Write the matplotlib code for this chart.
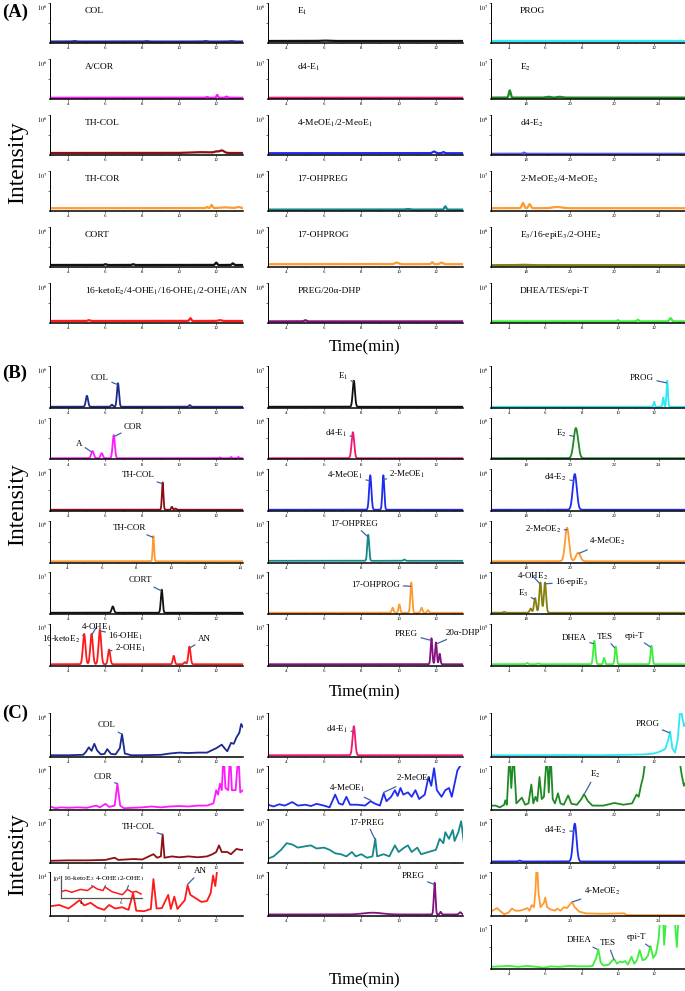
import numpy as np
import matplotlib.pyplot as plt

plt.rcParams['font.family'] = ['Liberation Serif', 'DejaVu Serif']
plt.rcParams['mathtext.fontset'] = 'stix'

FIG_W, FIG_H = 685, 991

NAVY, MAGENTA, DARKRED, ORANGE = '#1b2a8c', '#ff19ff', '#8c0f14', '#ff9a2e'
BLACK, RED, PINK, BLUE = '#111111', '#ff1a1a', '#f5176e', '#1f2cf0'
TEAL, PURPLE, CYAN, GREEN = '#16878a', '#82107f', '#2ee8f2', '#1f8a24'
SLATE, OLIVE, LIME = '#5a5cf0', '#83800e', '#3cef3c'
LEADER = '#3f62a8'

SHORT = (3.0, 13.45)
SHORT3 = (3.0, 13.7)
LONG = (16.4, 25.2)
WIDE = (3.0, 14.2)

# ---- (A) blank samples: (baseline, [(retention time, height, sigma), ...])
a_col = (0.035, [(4.3, .012, .08), (8.2, .01, .08), (11.4, .012, .08), (12.8, .01, .08)])
a_acor = (0.03, [(11.5, .02, .05), (12.05, .07, .04), (12.55, .03, .06)])
a_thcol = (0.05, [(11.2, .02, .6), (12.0, .03, .1), (12.3, .06, .12)])
a_thcor = (0.07, [(11.5, .03, .05), (11.75, .08, .05), (12.5, .02, .3), (13.2, .03, .1)])
a_cort = (0.05, [(6.0, .02, .05), (7.5, .02, .05), (12.0, .06, .05), (12.9, .04, .05)])
a_keto = (0.05, [(5.1, .02, .06), (10.6, .07, .05), (12.2, .02, .1)])
a_e1 = (0.05, [(6.0, .01, .2)])
a_d4e1 = (0.03, [])
a_meoe1 = (0.045, [(11.9, .04, .08), (12.4, .03, .05)])
a_ohpreg = (0.035, [(10.5, .015, .1), (12.5, .08, .05)])
a_ohprog = (0.07, [(9.9, .04, .1), (11.8, .05, .05), (12.3, .04, .08)])
a_preg = (0.04, [(5.0, .03, .06)])
a_prog = (0.05, [])
a_e2 = (0.035, [(17.25, .18, .04), (19.0, .02, .1), (19.5, .02, .1)])
a_d4e2 = (0.03, [(17.9, .03, .05)])
a_meoe2 = (0.07, [(17.85, .13, .05), (18.15, .1, .05), (19.4, .03, .2)])
a_e3 = (0.045, [(17.8, .01, .2)])
a_dhea = (0.04, [(10.0, .03, .05), (11.1, .04, .05), (12.9, .08, .06)])

# ---- (B) standards
b_col = (0.03, [(5.0, .26, .06), (6.35, .05, .05), (6.68, .56, .055), (10.57, .04, .04)])
b_acor = (0.03, [(5.3, .17, .07), (5.8, .12, .06), (6.45, .55, .06),
                 (12.2, .02, .04), (12.8, .03, .04), (13.2, .03, .04)])
b_thcol = (0.03, [(9.1, .65, .04), (9.6, .07, .04), (9.8, .03, .04)])
b_thcor = (0.03, [(9.0, .6, .04)])
b_cort = (0.03, [(6.4, .15, .06), (9.05, .55, .05)])
b_keto = (0.03, [(4.85, .72, .07), (5.25, .72, .07), (5.7, .82, .07), (6.2, .35, .06),
                 (9.7, .2, .05), (10.3, .05, .05), (10.55, .42, .06)])
b_e1 = (0.03, [(7.6, .62, .06)])
b_d4e1 = (0.03, [(7.55, .62, .07)])
b_meoe1 = (0.03, [(8.48, .82, .06), (9.18, .82, .05)])
b_ohpreg = (0.04, [(8.37, .62, .05), (10.3, .03, .05)])
b_ohprog = (0.03, [(9.68, .12, .045), (10.04, .2, .045), (10.68, .72, .05), (11.23, .12, .045), (11.57, .06, .045)])
b_preg = (0.03, [(11.76, .62, .045), (12.0, .52, .045), (12.2, .25, .04)])
b_prog = (0.03, [(12.0, .12, .035), (12.5, .22, .035), (12.72, .62, .04)])
b_e2 = (0.03, [(20.25, .72, .1)])
b_d4e2 = (0.03, [(20.2, .85, .09)])
b_meoe2 = (0.03, [(19.85, .8, .09), (20.35, .2, .1)])
b_e3 = (0.03, [(17.0, .02, .05), (18.2, .1, .045), (18.4, .35, .05), (18.64, .72, .05), (18.85, .72, .05)])
b_dhea = (0.03, [(5.0, .03, .05), (5.6, .02, .05), (8.7, .56, .06), (9.24, .15, .045),
                 (9.88, .42, .05), (11.85, .44, .05)])

# ---- (C) real samples
c_col_t = [3.0, 4.0, 4.8, 4.95, 5.1, 5.25, 5.4, 5.55, 5.75, 5.95, 6.1, 6.3, 6.55, 6.78, 6.9, 7.05, 7.4, 8.0,
           9.0, 9.5, 10.0, 10.5, 11.0, 11.5, 11.8, 12.0, 12.3, 12.45, 12.6, 12.8, 12.95, 13.1, 13.25, 13.35, 13.45]
c_col_h = [0.04, 0.04, 0.05, 0.12, 0.22, 0.14, 0.3, 0.15, 0.06, 0.07, 0.18, 0.07, 0.06, 0.2, 0.52, 0.08, 0.04, 0.04,
           0.05, 0.08, 0.1, 0.09, 0.1, 0.1, 0.16, 0.2, 0.28, 0.2, 0.13, 0.32, 0.3, 0.45, 0.55, 0.75, 0.68]
c_cor_t = [3.0, 3.3, 3.6, 4.0, 4.5, 5.0, 5.5, 5.7, 6.0, 6.2, 6.5, 6.65, 6.8, 7.0, 7.5, 8.0, 8.5, 9.0, 9.5, 10.0,
           10.5, 11.0, 11.5, 11.85, 12.0, 12.1, 12.2, 12.3, 12.4, 12.5, 12.65, 12.75, 12.85, 13.05, 13.2, 13.3, 13.45]
c_cor_h = [0.08, 0.04, 0.06, 0.05, 0.06, 0.05, 0.1, 0.06, 0.14, 0.07, 0.1, 0.6, 0.1, 0.04, 0.05, 0.06, 0.08, 0.06,
           0.08, 0.09, 0.08, 0.1, 0.1, 0.15, 0.45, 0.35, 0.6, 0.45, 1.3, 0.5, 0.45, 1.3, 0.45, 0.45, 1.3, 0.4, 0.45]
c_thcol_t = [3.0, 4.0, 5.0, 6.0, 6.5, 6.7, 7.5, 8.0, 8.6, 8.8, 9.0, 9.1, 9.2, 9.6, 10.0, 10.5, 11.0, 11.5,
             11.8, 12.0, 12.15, 12.3, 12.6, 12.8, 13.1, 13.3, 13.45]
c_thcol_h = [0.05, 0.06, 0.06, 0.07, 0.12, 0.07, 0.09, 0.08, 0.2, 0.12, 0.15, 0.65, 0.12, 0.15, 0.13, 0.15, 0.13,
             0.15, 0.2, 0.25, 0.4, 0.25, 0.25, 0.2, 0.32, 0.3, 0.3]
c_keto_t = [3.0, 3.5, 4.0, 4.36, 4.6, 4.85, 5.2, 5.57, 5.93, 6.2, 6.53, 6.9, 7.25, 7.5, 7.67, 8.1, 8.46, 8.6, 8.77,
            9.06, 9.4, 9.54, 9.73, 9.9, 10.14, 10.3, 10.45, 10.6, 10.9, 11.2, 11.5, 11.7, 11.83, 11.95, 12.05]
c_keto_h = [0.22, 0.25, 0.17, 0.28, 0.36, 0.24, 0.3, 0.19, 0.14, 0.25, 0.17, 0.2, 0.14, 0.52, 0.12, 0.11, 0.16,
            0.84, 0.17, 0.18, 0.48, 0.16, 0.44, 0.16, 0.28, 0.36, 0.7, 0.48, 0.4, 0.32, 0.34, 0.52, 0.92, 0.68, 1.05]
c_inset_t = [3.0, 3.2, 3.5, 3.95, 4.3, 4.6, 4.8, 5.1, 5.2, 5.55, 5.9, 6.1, 6.35, 6.6, 6.8, 7.05]
c_inset_h = [0.3, 0.35, 0.26, 0.39, 0.34, 0.53, 0.41, 0.34, 0.5, 0.29, 0.2, 0.15, 0.39, 0.26, 0.3, 0.18]
c_d4e1 = (0.04, [(7.6, .66, .07)])
c_meoe1_t = [3.0, 3.3, 3.6, 3.9, 4.3, 4.6, 5.0, 5.3, 5.6, 6.0, 6.3, 6.6, 6.8, 7.0, 7.2, 7.4, 7.8, 8.2, 8.5, 8.7,
             9.0, 9.2, 9.35, 9.6, 9.8, 9.95, 10.1, 10.25, 10.5, 10.7, 10.9, 11.1, 11.4, 11.6, 11.75, 11.9, 12.05,
             12.3, 12.5, 12.7, 12.85, 13.0, 13.15, 13.3]
c_meoe1_h = [0.12, 0.08, 0.13, 0.1, 0.18, 0.1, 0.12, 0.09, 0.14, 0.1, 0.06, 0.35, 0.15, 0.12, 0.3, 0.12, 0.12, 0.1,
             0.2, 0.15, 0.1, 0.38, 0.2, 0.3, 0.45, 0.32, 0.5, 0.35, 0.4, 0.3, 0.45, 0.25, 0.35, 0.75, 0.55, 0.95,
             0.45, 0.3, 0.45, 0.5, 0.3, 0.6, 0.9, 1.0]
c_preg17_t = [3.0, 3.3, 3.7, 4.0, 4.3, 4.6, 5.0, 5.3, 5.6, 6.0, 6.3, 6.6, 6.9, 7.2, 7.5, 7.7, 8.0, 8.3, 8.6, 8.75,
              8.85, 9.2, 9.5, 9.8, 10.0, 10.3, 10.5, 10.7, 11.0, 11.2, 11.6, 12.0, 12.2, 12.4, 12.5, 12.7, 12.9,
              13.0, 13.2, 13.35, 13.5]
c_preg17_h = [0.1, 0.15, 0.3, 0.45, 0.42, 0.35, 0.38, 0.4, 0.33, 0.35, 0.3, 0.22, 0.2, 0.15, 0.25, 0.15, 0.2, 0.12,
              0.15, 0.55, 0.15, 0.2, 0.15, 0.4, 0.25, 0.35, 0.4, 0.25, 0.35, 0.2, 0.25, 0.3, 0.55, 0.45, 0.7, 0.55,
              0.75, 0.5, 0.7, 0.95, 0.45]
c_preg = (0.035, [(8.6, .04, .5), (11.93, .72, .045), (12.25, .06, .04), (13.3, .05, .06)])
c_prog_t = [3.0, 5.0, 7.0, 9.0, 10.5, 11.5, 12.0, 12.3, 12.6, 12.75, 12.88, 13.0, 13.15, 13.3, 13.45, 13.55, 13.65, 13.7]
c_prog_h = [0.04, 0.04, 0.045, 0.04, 0.05, 0.06, 0.08, 0.12, 0.18, 0.35, 0.58, 0.2, 0.1, 0.4, 1.15, 0.9, 0.7, 0.75]
c_e2_t = [16.4, 16.6, 16.8, 17.0, 17.05, 17.12, 17.24, 17.32, 17.42, 17.55, 17.8, 17.95, 18.1, 18.23, 18.32, 18.42,
          18.5, 18.6, 18.7, 18.8, 18.94, 19.02, 19.1, 19.2, 19.3, 19.44, 19.55, 19.7, 19.9, 20.05, 20.3, 20.5, 20.62,
          20.8, 21.0, 21.5, 22.0, 22.4, 22.8, 23.0, 23.1, 23.2, 23.3, 23.45, 24.9, 25.05, 25.15, 25.2]
c_e2_h = [0.1, 0.1, 0.06, 0.12, 0.22, 0.12, 1.3, 0.5, 1.3, 0.15, 0.28, 0.12, 0.15, 0.58, 0.15, 0.3, 0.2, 0.75, 0.25,
          0.3, 1.3, 0.4, 1.3, 0.25, 0.15, 0.38, 0.15, 0.12, 0.33, 0.14, 0.12, 0.25, 0.36, 0.2, 0.1, 0.1, 0.16, 0.12,
          0.15, 0.35, 0.3, 0.55, 0.75, 1.3, 1.3, 0.8, 0.55, 0.6]
c_d4e2 = (0.035, [(17.7, .02, .05), (20.2, .86, .08)])
c_meoe2_t = [16.4, 16.67, 16.85, 17.0, 17.2, 17.35, 17.5, 17.7, 17.9, 18.05, 18.15, 18.25, 18.35, 18.42, 18.48,
             18.56, 18.65, 18.8, 18.86, 18.95, 19.1, 19.3, 19.4, 19.55, 19.7, 19.85, 20.07, 20.2, 20.4, 20.7, 21.5,
             22.3, 22.45, 22.55, 25.2]
c_meoe2_h = [0.1, 0.18, 0.1, 0.04, 0.08, 0.17, 0.12, 0.12, 0.15, 0.18, 0.12, 0.25, 0.2, 0.6, 1.3, 0.5, 0.2, 0.3,
             0.42, 0.2, 0.15, 0.12, 0.17, 0.12, 0.2, 0.18, 0.32, 0.2, 0.1, 0.06, 0.05, 0.06, 0.06, 0.02, 0.02]
c_dhea_t = [3.0, 3.5, 4.0, 4.5, 5.0, 5.5, 5.9, 6.3, 6.8, 7.3, 7.8, 8.3, 8.6, 8.8, 8.92, 9.05, 9.2, 9.5, 9.7, 9.8,
            9.95, 10.1, 10.25, 10.4, 10.55, 10.75, 10.9, 11.05, 11.2, 11.35, 11.5, 11.65, 11.8, 11.95, 12.1, 12.25,
            12.35, 12.48, 12.55, 12.68, 13.1, 13.25, 13.36, 13.7]
c_dhea_h = [0.05, 0.06, 0.07, 0.05, 0.07, 0.05, 0.03, 0.06, 0.05, 0.07, 0.06, 0.06, 0.07, 0.25, 0.45, 0.15, 0.08,
            0.1, 0.2, 0.22, 0.12, 0.17, 0.15, 0.18, 0.1, 0.28, 0.12, 0.2, 0.43, 0.2, 0.22, 0.3, 0.52, 0.25, 0.35,
            0.7, 1.3, 1.3, 0.55, 1.3, 1.3, 0.5, 1.3, 1.3]


def px_axes(fig, left, top, width, height):
    return fig.add_axes([left / FIG_W, 1 - (top + height) / FIG_H, width / FIG_W, height / FIG_H])


def peak_curve(t, base, peaks):
    y = np.full_like(t, base)
    for rt, hgt, sig in peaks:
        y += hgt * np.exp(-0.5 * ((t - rt) / sig) ** 2)
    return y


def style_axes(ax, xr, exp):
    ax.set_xlim(*xr)
    ax.set_ylim(0, 1)
    ax.patch.set_alpha(0)
    for s in ('top', 'right'):
        ax.spines[s].set_visible(False)
    ax.spines['bottom'].set_linewidth(1.1)
    ax.spines['left'].set_linewidth(0.7)
    if xr == LONG:
        major, minor = [18, 20, 22, 24], [17, 19, 21, 23, 25]
    else:
        major = list(range(4, int(xr[1]) + 1, 2))
        minor = list(range(3, int(xr[1]) + 1, 2))
    ax.set_xticks(major)
    ax.set_xticks(minor, minor=True)
    ax.set_yticks([0.5, 1.0])
    ax.set_yticklabels([])
    ax.tick_params(axis='x', labelsize=3.5, length=1.5, width=0.4, pad=0.8)
    ax.tick_params(axis='y', length=1.5, width=0.4)
    ax.tick_params(which='minor', length=1, width=0.3)
    ax.text(-0.012, 1.0, rf'$10^{exp}$', transform=ax.transAxes, ha='right', va='top', fontsize=4.5)


def draw(ax, spec, lw=1.3):
    data, color, xr, exp = spec[:4]
    style_axes(ax, xr, exp)
    if isinstance(data, tuple) and len(data) == 2 and np.isscalar(data[0]):
        t = np.linspace(xr[0], xr[1], 2000)
        y = peak_curve(t, *data)
    else:
        t, y = data
    ax.plot(t, y, color=color, lw=lw, solid_joinstyle='round')
    labels = spec[4] if len(spec) > 4 else []
    for text, tx, ty, px, py, ha in labels:
        ax.annotate(text, xy=(px, py), xytext=(tx, ty), ha=ha, va='center', fontsize=6.5,
                    annotation_clip=False,
                    arrowprops=dict(arrowstyle='-', color=LEADER, lw=0.9, shrinkA=0, shrinkB=0))


fig = plt.figure(figsize=(FIG_W / 100, FIG_H / 100), dpi=100)

COL_LEFT = [50, 268, 491]
COL_WIDTH = [193, 195, 194]

# ---------------- (A)
A_cols = [
    [(a_col, NAVY, SHORT, 6, 'COL'), (a_acor, MAGENTA, SHORT, 6, 'A/COR'),
     (a_thcol, DARKRED, SHORT, 6, 'TH-COL'), (a_thcor, ORANGE, SHORT, 7, 'TH-COR'),
     (a_cort, BLACK, SHORT, 6, 'CORT'),
     (a_keto, RED, SHORT, 6, '16-ketoE$_2$/4-OHE$_1$/16-OHE$_1$/2-OHE$_1$/AN')],
    [(a_e1, BLACK, SHORT, 6, 'E$_1$'), (a_d4e1, PINK, SHORT, 7, 'd4-E$_1$'),
     (a_meoe1, BLUE, SHORT, 5, '4-MeOE$_1$/2-MeoE$_1$'), (a_ohpreg, TEAL, SHORT, 6, '17-OHPREG'),
     (a_ohprog, ORANGE, SHORT, 5, '17-OHPROG'), (a_preg, PURPLE, SHORT, 6, 'PREG/20α-DHP')],
    [(a_prog, CYAN, SHORT3, 7, 'PROG'), (a_e2, GREEN, LONG, 7, 'E$_2$'),
     (a_d4e2, SLATE, LONG, 6, 'd4-E$_2$'), (a_meoe2, ORANGE, LONG, 7, '2-MeOE$_2$/4-MeOE$_2$'),
     (a_e3, OLIVE, LONG, 6, 'E$_3$/16-epiE$_3$/2-OHE$_2$'), (a_dhea, LIME, SHORT3, 5, 'DHEA/TES/epi-T')],
]
for c, col in enumerate(A_cols):
    for r, (data, color, xr, exp, name) in enumerate(col):
        ax = px_axes(fig, COL_LEFT[c], 3 + 56 * r, COL_WIDTH[c], 40)
        draw(ax, (data, color, xr, exp), lw=1.6)
        ax.text(0.18 if c == 0 else 0.15, 0.8, name, transform=ax.transAxes, fontsize=6.8, va='center')

# ---------------- (B)
B_cols = [
    [(b_col, NAVY, SHORT, 6, [('COL', 6.2, 0.72, 6.65, 0.56, 'right')]),
     (b_acor, MAGENTA, SHORT, 7, [('A', 4.75, 0.38, 5.25, 0.18, 'right'), ('COR', 7.0, 0.78, 6.5, 0.55, 'left')]),
     (b_thcol, DARKRED, SHORT, 6, [('TH-COL', 8.65, 0.85, 9.08, 0.65, 'right')]),
     (b_thcor, ORANGE, WIDE, 6, [('TH-COR', 8.6, 0.82, 8.98, 0.6, 'right')]),
     (b_cort, BLACK, SHORT, 7, [('CORT', 8.55, 0.8, 9.03, 0.55, 'right')]),
     (b_keto, RED, SHORT, 5, [('16-ketoE$_2$', 4.62, 0.62, 4.85, 0.72, 'right'),
                              ('4-OHE$_1$', 5.5, 0.9, 5.27, 0.74, 'center'),
                              ('16-OHE$_1$', 6.15, 0.7, 5.75, 0.82, 'left'),
                              ('2-OHE$_1$', 6.5, 0.4, 6.22, 0.35, 'left'),
                              ('AN', 11.0, 0.62, 10.57, 0.42, 'left')])],
    [(b_e1, BLACK, SHORT, 7, [('E$_1$', 7.3, 0.75, 7.58, 0.62, 'right')]),
     (b_d4e1, PINK, SHORT, 6, [('d4-E$_1$', 7.25, 0.62, 7.53, 0.55, 'right')]),
     (b_meoe1, BLUE, SHORT, 6, [('4-MeOE$_1$', 8.1, 0.85, 8.45, 0.72, 'right'),
                                ('2-MeOE$_1$', 9.5, 0.88, 9.2, 0.75, 'left')]),
     (b_ohpreg, TEAL, SHORT, 7, [('17-OHPREG', 8.9, 0.92, 8.33, 0.62, 'right')]),
     (b_ohprog, ORANGE, SHORT, 6, [('17-OHPROG', 10.1, 0.7, 10.65, 0.66, 'right')]),
     (b_preg, PURPLE, SHORT, 7, [('PREG', 11.05, 0.75, 11.72, 0.6, 'right'),
                                 ('20α-DHP', 12.5, 0.78, 12.05, 0.52, 'left')])],
    [(b_prog, CYAN, SHORT3, 6, [('PROG', 12.0, 0.72, 12.68, 0.6, 'right')]),
     (b_e2, GREEN, LONG, 6, [('E$_2$', 19.85, 0.62, 20.15, 0.55, 'right')]),
     (b_d4e2, BLUE, LONG, 6, [('d4-E$_2$', 19.85, 0.8, 20.15, 0.72, 'right')]),
     (b_meoe2, ORANGE, LONG, 6, [('2-MeOE$_2$', 19.6, 0.78, 19.85, 0.78, 'right'),
                                 ('4-MeOE$_2$', 20.85, 0.5, 20.4, 0.22, 'left')]),
     (b_e3, OLIVE, LONG, 6, [('E$_3$', 18.1, 0.5, 18.37, 0.35, 'right'),
                             ('4-OHE$_2$', 18.3, 0.9, 18.62, 0.72, 'center'),
                             ('16-epiE$_3$', 19.3, 0.76, 18.88, 0.72, 'left')]),
     (b_dhea, LIME, SHORT3, 5, [('DHEA', 8.3, 0.65, 8.65, 0.52, 'right'),
                                ('TES', 9.3, 0.68, 9.82, 0.42, 'center'),
                                ('epi-T', 10.9, 0.7, 11.8, 0.44, 'center')])],
]
for c, col in enumerate(B_cols):
    for r, spec in enumerate(col):
        ax = px_axes(fig, COL_LEFT[c], 366 + 51.5 * r, COL_WIDTH[c], 42)
        draw(ax, spec)

# ---------------- (C)
C_cols = [
    [((c_col_t, c_col_h), NAVY, SHORT, 6, [('COL', 6.55, 0.72, 6.88, 0.52, 'right')]),
     ((c_cor_t, c_cor_h), MAGENTA, SHORT, 6, [('COR', 6.35, 0.75, 6.62, 0.6, 'right')]),
     ((c_thcol_t, c_thcol_h), DARKRED, SHORT, 6, [('TH-COL', 8.65, 0.82, 9.08, 0.65, 'right')]),
     ((c_keto_t, c_keto_h), RED, SHORT, 4, [('AN', 10.8, 1.02, 10.45, 0.72, 'left')])],
    [(c_d4e1, PINK, SHORT, 6, [('d4-E$_1$', 7.3, 0.62, 7.58, 0.58, 'right')]),
     ((c_meoe1_t, c_meoe1_h), BLUE, SHORT, 6, [('4-MeOE$_1$', 8.2, 0.48, 8.5, 0.22, 'right'),
                                                ('2-MeOE$_1$', 9.85, 0.72, 9.2, 0.4, 'left')]),
     ((c_preg17_t, c_preg17_h), TEAL, SHORT, 7, [('17-PREG', 8.3, 0.92, 8.72, 0.55, 'center')]),
     (c_preg, PURPLE, SHORT, 6, [('PREG', 11.4, 0.9, 11.9, 0.72, 'right')])],
    [((c_prog_t, c_prog_h), CYAN, SHORT3, 6, [('PROG', 12.3, 0.75, 12.85, 0.55, 'right')]),
     ((c_e2_t, c_e2_h), GREEN, LONG, 7, [('E$_2$', 20.9, 0.82, 20.65, 0.38, 'left')]),
     (c_d4e2, BLUE, LONG, 6, [('d4-E$_2$', 19.85, 0.75, 20.15, 0.72, 'right')]),
     ((c_meoe2_t, c_meoe2_h), ORANGE, LONG, 6, [('4-MeOE$_2$', 20.6, 0.55, 20.1, 0.32, 'left')]),
     ((c_dhea_t, c_dhea_h), LIME, SHORT3, 7, [('DHEA', 8.55, 0.65, 8.85, 0.45, 'right'),
                                               ('TES', 9.45, 0.58, 9.78, 0.22, 'center'),
                                               ('epi-T', 11.0, 0.72, 11.75, 0.5, 'center')])],
]
for c, col in enumerate(C_cols):
    for r, spec in enumerate(col):
        ax = px_axes(fig, COL_LEFT[c], 713 + 53 * r, COL_WIDTH[c], 44)
        draw(ax, spec)

# inset in the (C) 16-ketoE2 panel
ins = px_axes(fig, 61, 876, 81, 22)
ins.set_xlim(2.95, 7.1)
ins.set_ylim(0, 1)
ins.patch.set_alpha(0)
for s in ('top', 'right'):
    ins.spines[s].set_visible(False)
for s in ('left', 'bottom'):
    ins.spines[s].set_color('#555555')
    ins.spines[s].set_linewidth(0.9)
ins.set_xticks([4, 6])
ins.set_xticks([3, 5, 7], minor=True)
ins.set_yticks([])
ins.tick_params(axis='x', labelsize=3.5, length=1.5, width=0.4, pad=0.8)
ins.tick_params(which='minor', length=1, width=0.3)
ins.plot(c_inset_t, c_inset_h, color=RED, lw=1.1)
ins.text(0.01, 1.05, r'$10^4$', transform=ins.transAxes, ha='right', va='top', fontsize=4.2)
for text, tx, ty, px, py, ha in [('16-ketoE$_2$', 3.05, 0.9, 4.6, 0.53, 'left'),
                                 ('4-OHE$_1$', 5.35, 0.9, 5.2, 0.5, 'center'),
                                 ('2-OHE$_1$', 6.55, 0.9, 6.33, 0.39, 'center')]:
    ins.annotate(text, xy=(px, py), xytext=(tx, ty), ha=ha, va='center', fontsize=5.3,
                 annotation_clip=False,
                 arrowprops=dict(arrowstyle='-', color=LEADER, lw=0.8, shrinkA=0, shrinkB=0))

# figure-level labels
for label, ytop, yint, ytime in [('(A)', 12, 163, 347), ('(B)', 373, 505, 692), ('(C)', 713, 855, 980)]:
    fig.text(2 / FIG_W, 1 - ytop / FIG_H, label, fontsize=13.5, fontweight='bold', va='center', ha='left')
    fig.text(18 / FIG_W, 1 - yint / FIG_H, 'Intensity', rotation=90, fontsize=17, va='center', ha='center')
    fig.text(365 / FIG_W, 1 - ytime / FIG_H, 'Time(min)', fontsize=12, va='center', ha='center')

fig.savefig('out.png', dpi=100)
